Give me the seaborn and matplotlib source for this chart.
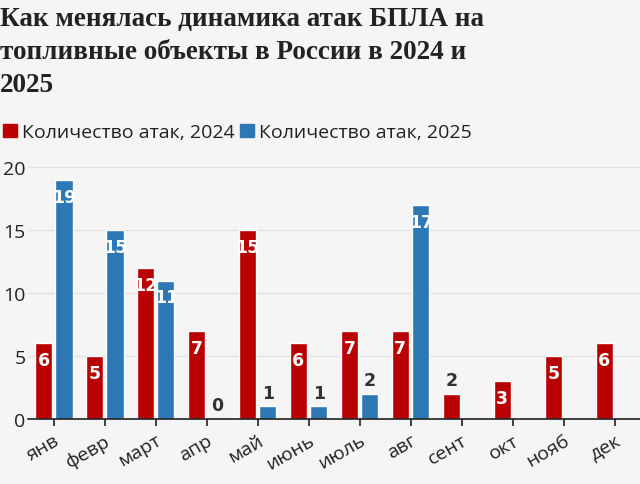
import numpy as np
import pandas as pd
import matplotlib.pyplot as plt
import seaborn as sns

# monthly counts of drone attacks on fuel facilities
months = ['янв', 'февр', 'март', 'апр', 'май', 'июнь', 'июль', 'авг',
          'сент', 'окт', 'нояб', 'дек']
attacks_2024 = [6, 5, 12, 7, 15, 6, 7, 7, 2, 3, 5, 6]
attacks_2025 = [19, 15, 11, 0, 1, 1, 2, 17, np.nan, np.nan, np.nan, np.nan]
series_names = ['Количество атак, 2024', 'Количество атак, 2025']

title = 'Как менялась динамика атак БПЛА на\nтопливные объекты в России в 2024 и\n2025'

bg = '#f5f5f5'
red = '#b80000'
blue = '#2e77b5'
dark = '#222222'

df = pd.DataFrame({
    'month': months * 2,
    'count': attacks_2024 + attacks_2025,
    'series': [series_names[0]] * 12 + [series_names[1]] * 12,
})

sns.set_style('white')
plt.rcParams['font.family'] = ['Open Sans', 'DejaVu Sans']

fig = plt.figure(figsize=(6.4, 4.85), dpi=100, facecolor=bg)
ax = fig.add_axes([0.044, 0.134, 0.956, 0.532], facecolor=bg)

sns.barplot(data=df, x='month', y='count', hue='series', order=months,
            hue_order=series_names, palette=[red, blue], width=0.8, gap=0.15,
            saturation=1, ax=ax, legend=False)

# value labels: white inside tall bars, dark above short ones
for container in ax.containers:
    for bar in container:
        h = bar.get_height()
        if np.isnan(h):
            continue
        xc = bar.get_x() + bar.get_width() / 2
        if h >= 3:
            ax.annotate(f'{int(h)}', (xc, h), xytext=(0, -12), textcoords='offset points',
                        ha='center', va='center', color='white', fontsize=12.5,
                        fontweight='bold', family='DejaVu Sans')
        else:
            ax.annotate(f'{int(h)}', (xc, h), xytext=(0, 10), textcoords='offset points',
                        ha='center', va='center', color='#333333', fontsize=12.5,
                        fontweight='bold', family='DejaVu Sans')

ax.set_xlim(-0.5, 11.5)
ax.set_ylim(0, 20.5)
ax.set_yticks([0, 5, 10, 15, 20])
ax.yaxis.grid(True, color='#e2e2e2', linewidth=1)
ax.set_axisbelow(True)
for s in ['top', 'right', 'left']:
    ax.spines[s].set_visible(False)
ax.spines['bottom'].set_color(dark)
ax.spines['bottom'].set_linewidth(1.2)
ax.set_xlabel('')
ax.set_ylabel('')
ax.tick_params(axis='y', length=0, labelsize=14, colors=dark, pad=2)
ax.tick_params(axis='x', length=5, width=1.2, color=dark, labelsize=14,
               labelcolor=dark, bottom=True)
plt.setp(ax.get_xticklabels(), rotation=30, ha='right', rotation_mode='anchor')

fig.text(0.0, 0.985, title, ha='left', va='top', fontsize=19.5, fontweight='bold',
         family='Liberation Serif', color=dark, linespacing=1.42)

handles = [plt.Rectangle((0, 0), 1, 1, color=c) for c in [red, blue]]
fig.legend(handles, series_names, loc='upper left', bbox_to_anchor=(-0.022, 0.78),
           ncol=2, frameon=False, handlelength=0.7, handleheight=0.7,
           handletextpad=0.25, columnspacing=0.3, fontsize=14, labelcolor=dark)

fig.savefig('out.png', dpi=100, facecolor=bg)
